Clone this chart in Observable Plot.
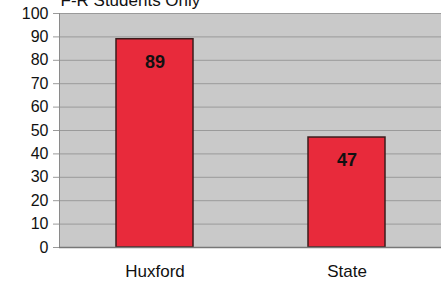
<!DOCTYPE html>
<html><head>
<meta charset="utf-8">
<script src="https://cdn.jsdelivr.net/npm/d3@7"></script>
<script src="https://cdn.jsdelivr.net/npm/@observablehq/plot@0.6"></script>
<style>body{margin:0;background:#fff} svg{overflow:visible}</style>
</head><body><div id="chart"></div>
<script>
const categories = ["Huxford", "State"];
const values = [89, 47];
const yTicks = [0, 10, 20, 30, 40, 50, 60, 70, 80, 90, 100];
const title = "F-R Students Only";

const data = categories.map((c, i) => ({category: c, value: values[i]}));

const chart = Plot.plot({
  width: 441, height: 285,
  marginLeft: 59, marginRight: 0, marginTop: 13, marginBottom: 38,
  style: {fontFamily: "'Liberation Sans', Arial, sans-serif", fontSize: "16px", background: "#fff", color: "#111"},
  x: {domain: categories, paddingInner: 0.6, paddingOuter: 0.3, range: [58, 443], label: null},
  y: {domain: [0, 100], ticks: yTicks, label: null},
  marks: [
    Plot.frame({fill: "#c9c9c9", stroke: null}),
    Plot.ruleY(yTicks, {stroke: "#9a9a9a", strokeWidth: 1}),
    Plot.frame({anchor: "left", stroke: "#8a8a8a"}),
    Plot.axisY({ticks: yTicks, tickSize: 6, tickPadding: 5, stroke: "#9a9a9a", label: null, fill: "#111", fontSize: 16}),
    Plot.axisX({tickSize: 0, tickPadding: 17, label: null, fill: "#111", fontSize: 17}),
    Plot.barY(data, {x: "category", y: "value", fill: "#e82a3b", stroke: "#3b1c1c", strokeWidth: 1.5}),
    Plot.text(data, {x: "category", y: "value", text: d => String(d.value), dy: 23, fontWeight: "bold", fontSize: 18, fill: "#111"}),
    Plot.ruleY([0], {stroke: "#777", strokeWidth: 1.5}),
    Plot.text([title], {frameAnchor: "top-left", textAnchor: "start", lineAnchor: "bottom", dx: 1, dy: -8, fontSize: 17, fill: "#111"})
  ]
});
document.getElementById("chart").appendChild(chart);
</script>
</body></html>
